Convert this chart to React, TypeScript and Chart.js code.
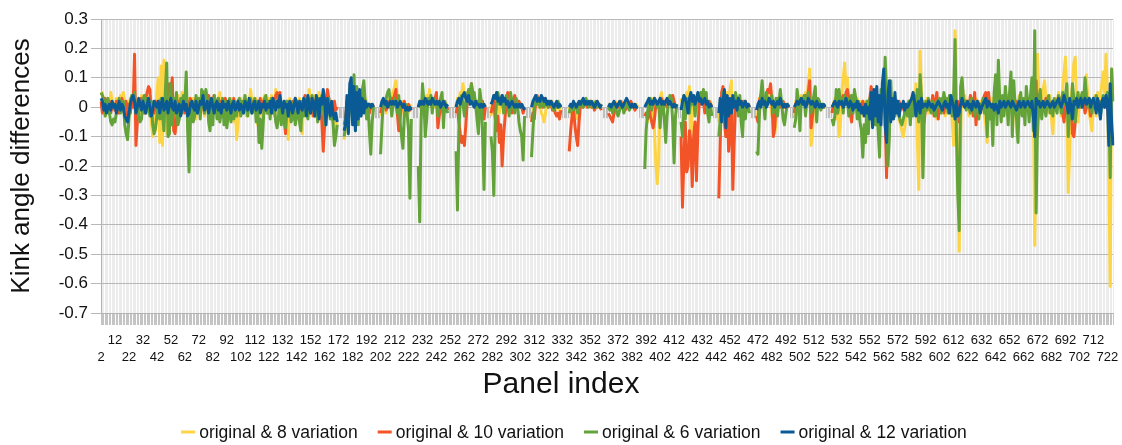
import React, { useEffect, useRef } from 'react';
import { Chart, registerables } from 'chart.js';

Chart.register(...registerables);

const _ = null;

// Panel index categories 2 .. 726
const panelIndex: string[] = Array.from({ length: 725 }, (_v, i) => String(i + 2));

const seriesLabels = [
  'original & 8 variation',
  'original & 10 variation',
  'original & 6 variation',
  'original & 12 variation',
];
const seriesColors = ['#fcd444', '#f25427', '#63a33a', '#0a5a96'];

const yMin = -0.7;
const yMax = 0.3;
const yStep = 0.1;

const xTitle = 'Panel index';
const yTitle = 'Kink angle differences';

// original & 8 variation (yellow)
const orig8: (number | null)[] = [
  .04,.05,.02,-.03,.01,.03,-.02,.05,.02,-.01,
  0,.03,-.02,.01,.04,-.01,.05,.02,-.03,-.02,
  .01,.03,0,.05,.02,-.03,.01,.02,-.02,.04,
  .02,-.01,.03,0,-.02,.04,-.05,-.1,.02,-.08,
  .05,.1,-.12,.14,-.13,.16,.08,-.09,.04,-.03,
  .02,.05,-.04,.03,-.02,.04,.01,-.03,.05,-.02,
  .02,0,-.03,.03,.01,-.02,.03,0,-.04,.02,
  .03,-.02,.04,.01,-.03,.02,.04,-.02,.01,.03,
  -.02,.04,0,-.03,.02,.05,-.02,.01,.03,-.04,
  .02,0,-.03,.03,.01,-.05,.02,-.11,-.06,.02,
  .03,-.02,.01,.04,-.03,.02,0,.06,.02,-.02,
  .01,.03,-.06,.02,0,-.03,.02,.04,-.02,.01,
  .03,-.02,.04,.01,-.03,.06,.02,-.04,.03,0,
  -.03,.02,-.08,.01,-.11,.03,0,-.04,.02,.03,
  -.02,.01,.03,-.03,-.09,.02,0,.03,-.02,.06,
  .01,-.03,.02,.04,-.02,.01,.05,-.03,.02,0,
  .03,-.02,.04,.01,-.03,.02,-.05,-.11,-.04,-.06,
  _,_,_,_,-.11,-.06,.02,-.05,.05,.03,
  -.04,.06,-.03,.04,-.02,.03,.01,.04,-.01,.03,
  .02,0,.01,0,.01,0,_,_,_,_,
  -.03,0,.02,.01,-.02,.03,.02,0,.04,.05,
  .07,.09,.03,.01,-.02,.02,0,-.03,.01,0,
  -.02,0,.01,_,_,_,_,0,.02,-.01,
  .02,.03,.01,.04,.02,.06,.03,.01,.02,0,
  .03,.01,.02,-.02,0,.01,.02,0,-.01,_,
  _,_,_,_,0,.03,.02,.05,.04,.08,
  .03,.05,.01,.02,.04,.02,.01,.03,0,.02,
  .01,-.02,0,.01,0,.01,_,_,_,-.03,
  .02,.04,.03,.01,.02,-.02,.03,.01,.02,0,
  .02,.03,.01,0,.02,.01,-.01,.02,0,.01,
  0,.01,-.01,0,_,_,_,_,-.04,-.02,
  .02,.03,.01,0,.02,-.02,-.03,-.05,-.02,.01,
  .02,0,.01,.02,0,-.01,.01,0,-.01,0,
  _,_,_,_,_,0,-.02,.01,0,-.01,
  -.02,-.04,.01,.02,0,.01,.02,0,.01,.02,
  .01,0,.02,.01,0,.01,0,0,.01,_,
  _,_,_,0,.01,-.01,0,.01,.02,0,
  .01,0,.02,.01,0,.01,.02,.01,0,.01,
  0,.01,0,.01,0,_,_,_,_,-.03,
  -.02,-.05,.01,.02,-.04,.03,-.08,-.2,-.26,-.18,
  .03,.05,.01,.02,0,.03,.01,.02,.04,.01,
  .02,0,.01,_,_,.03,.01,.04,.02,.05,
  .03,.07,-.15,.02,.04,.01,.03,0,.02,.04,
  .02,.03,.01,.02,0,.01,.02,0,_,_,
  _,_,-.05,.02,-.03,.04,.01,-.02,.05,.03,
  .06,.09,-.12,.02,.04,.01,.03,-.02,.02,0,
  .01,.02,0,.01,0,_,_,_,_,-.04,
  -.02,.03,.01,.04,.02,0,.03,.02,.05,.03,
  -.03,.02,-.09,-.05,.02,.01,.03,0,.02,.01,
  0,.01,0,_,_,_,-.03,.02,.01,.03,
  .02,.04,.01,.03,.05,.02,.08,.13,-.13,-.09,
  .02,.03,0,.02,.01,0,.01,0,.01,_,
  _,_,_,-.02,.01,.03,-.04,.02,-.1,-.06,
  .05,.1,.15,.06,.1,.02,.04,.01,.03,.02,
  0,.03,-.02,.01,.02,-.03,0,.02,-.01,0,
  .02,-.03,.04,.01,-.02,.03,0,.02,-.04,.03,
  .05,-.02,.03,.01,-.03,.02,0,-.02,.01,0,
  .02,-.04,-.06,-.08,-.1,-.07,-.03,.01,0,.02,
  .03,.05,-.02,.08,-.1,-.28,.19,.05,-.12,.02,
  .01,.03,-.02,0,.02,.01,-.03,.02,-.04,0,
  .02,-.02,.01,.03,-.03,0,.02,-.01,.03,-.05,
  -.13,.26,.05,-.2,-.49,-.1,.09,.02,.04,0,
  .02,-.03,.01,.02,-.02,0,.03,.01,-.04,.02,
  0,.02,-.03,-.06,-.12,.04,.02,0,.03,.01,
  -.02,.03,.04,.01,-.03,.02,0,.03,-.02,.04,
  .02,.05,-.04,.03,0,-.09,.02,.04,-.02,.01,
  .03,-.02,.04,.01,.02,-.03,.05,.03,-.47,-.1,
  .18,.04,-.03,.02,.06,.09,.03,-.02,.01,.04,
  -.04,-.09,.02,.03,0,.05,.02,-.03,.06,.12,
  .17,.05,-.29,-.15,.03,.08,.15,.17,.02,-.05,
  .03,.01,.05,.02,.06,.11,.03,-.02,-.05,-.08,
  .02,.04,-.03,.05,.01,.03,.08,.12,.05,.18,
  .05,-.2,-.61,.13,.06,
];

// original & 10 variation (orange-red)
const orig10: (number | null)[] = [
  .02,-.02,.01,.03,-.01,0,.02,-.02,.01,0,
  -.01,.02,0,-.02,.01,.03,-.01,0,.02,-.03,
  .01,-.02,.02,0,.18,-.13,-.05,.02,0,.03,
  .01,-.02,.03,.05,.07,.06,-.03,.01,-.02,.02,
  0,-.03,.02,.01,-.04,.03,0,.02,.06,.08,
  .05,.1,-.08,-.09,-.04,.02,0,-.02,.03,.01,
  -.02,.01,.02,-.01,.03,0,-.02,.02,.03,.01,
  -.01,.02,0,.03,-.02,.01,.02,.04,0,-.02,
  .02,.04,.01,-.01,.03,0,.02,-.02,.01,.03,
  0,-.02,.02,.01,-.01,.03,0,-.02,.01,.02,
  -.01,.02,0,.03,.01,-.02,.02,.01,-.01,.02,
  0,.02,-.02,.01,.03,-.01,.02,0,.01,-.02,
  .02,.01,-.01,.03,.02,.04,.05,.02,.05,-.02,
  .01,-.04,-.09,.02,0,-.03,.01,.02,-.01,.03,
  .02,-.02,.01,0,-.03,.02,.04,.01,-.02,.03,
  0,.02,-.03,.01,.03,-.02,0,.02,-.05,-.15,
  -.06,.02,.06,.03,-.02,.01,-.03,.02,-.01,0,
  _,_,_,_,-.06,-.03,.02,-.04,.03,.02,
  -.02,.03,-.03,.04,0,.02,-.01,.01,0,.02,
  0,.01,-.02,0,.01,0,_,_,_,_,
  -.02,0,.01,.02,-.01,.02,0,.01,.03,.02,
  .04,.06,-.02,-.08,-.04,.01,0,.02,-.01,0,
  .01,-.01,0,_,_,_,_,0,.01,.02,
  .01,.02,0,.01,.02,.03,.01,0,.02,.03,
  .05,-.07,-.03,.01,.02,-.02,0,.01,-.01,_,
  _,_,_,_,-.02,0,-.05,-.09,-.12,-.1,
  -.13,-.06,.02,.04,.03,.08,.05,.02,0,.02,
  .01,-.03,0,.02,-.04,0,_,_,_,-.02,
  0,.02,-.04,-.08,-.03,-.12,-.06,-.2,-.1,-.04,
  .02,.05,.01,.03,-.02,.02,.04,.01,0,.02,
  .01,0,-.02,0,_,_,_,_,-.05,-.02,
  -.04,.02,.04,.01,.03,.02,0,.03,.01,.02,
  0,.02,.01,-.01,0,-.02,-.03,-.02,-.04,-.01,
  _,_,_,_,_,-.15,-.08,-.03,0,-.06,
  -.1,-.13,-.05,.01,.02,0,.01,.02,0,.01,
  .02,0,.01,-.01,0,.02,.01,0,-.01,_,
  _,_,_,-.02,-.03,-.04,-.05,-.02,0,.01,
  0,.01,.02,0,.01,-.01,0,.01,0,.02,
  .01,0,-.01,0,0,_,_,_,_,-.03,
  -.02,-.04,.01,-.03,-.05,-.07,-.04,.01,.02,0,
  .01,.03,0,.02,.01,0,.02,.03,.01,.04,
  .02,0,.01,_,_,-.1,-.34,-.18,-.05,-.22,
  -.2,-.08,-.12,-.27,-.1,-.05,-.25,-.08,.02,.01,
  .03,.02,-.02,.01,0,.02,.01,0,_,_,
  _,_,-.31,-.12,.05,.07,-.05,-.1,.02,-.15,
  -.08,.03,-.28,-.12,.02,.01,.03,-.02,.01,.02,
  0,.02,-.01,.01,0,_,_,_,_,-.03,
  -.05,.02,.04,.01,.03,.02,.04,.06,.05,.08,
  .02,-.1,-.07,.01,.03,.02,0,.01,.02,0,
  .01,0,.01,_,_,_,-.02,.01,.02,0,
  .02,.01,.03,.02,.04,.01,.05,.09,-.07,-.03,
  .02,.01,0,.02,.01,0,.01,0,0,_,
  _,_,_,-.02,.01,.02,0,-.02,.01,.03,
  .02,.04,.02,.05,.06,.03,-.02,-.05,.01,.02,
  0,.02,-.02,.01,0,.02,-.01,.01,0,.02,
  .03,.07,.02,-.02,.01,.03,-.01,.02,0,.03,
  .05,-.03,-.24,-.05,.02,.01,-.02,.03,0,.01,
  0,.02,-.01,.01,0,-.02,.01,0,.02,.01,
  -.02,.01,0,.02,-.01,0,.03,.01,-.03,-.05,
  .01,0,.02,-.01,0,.04,-.03,.02,.05,-.04,
  .02,0,.03,-.02,.01,0,.02,-.01,.03,0,
  .01,.03,-.02,.02,-.05,0,.04,.01,0,.02,
  .01,0,.04,.02,-.03,.05,-.06,.02,0,-.02,
  .01,.02,.04,.05,.02,.05,-.02,.01,0,.02,
  .01,-.02,0,.02,.01,-.01,.02,0,.03,.01,
  0,.02,-.01,.01,0,.02,.01,-.01,.02,0,
  .01,.02,0,.03,.01,-.01,.02,.04,-.1,.09,
  -.1,.03,.01,.02,0,.01,.03,0,.02,.01,
  0,.02,.01,-.01,.02,0,.01,.03,-.02,-.05,
  .01,.02,-.03,0,.02,-.09,-.1,-.05,.02,.01,
  .03,0,.02,.01,-.02,0,.02,.01,-.03,.02,
  0,.01,.03,0,.02,-.01,.01,.02,0,.03,
  .01,-.05,0,-.12,-.1,
];

// original & 6 variation (green)
const orig6: (number | null)[] = [
  .05,.04,.02,-.03,.01,.03,-.02,-.05,-.06,-.04,
  -.05,-.02,.01,.03,-.02,0,.02,-.06,-.09,-.11,
  -.04,.02,.04,.03,.05,-.02,.01,-.03,-.05,-.04,
  .02,.04,-.02,.03,0,-.03,.02,-.06,-.09,-.07,
  -.03,.02,-.04,.03,-.02,-.08,.05,.15,-.1,-.09,
  .08,-.06,.03,-.02,.05,-.06,-.04,.03,-.02,.04,
  .02,.12,-.08,-.22,-.04,.02,-.05,-.03,.04,-.02,
  .03,-.04,.06,.05,-.02,.06,.03,-.05,-.08,.02,
  -.06,.04,.02,-.04,.03,-.05,-.02,.03,-.06,.02,
  -.07,-.03,.03,-.05,.02,-.04,.01,-.03,.02,.03,
  -.03,.02,-.02,.04,.01,-.03,.02,.03,-.02,.01,
  .03,-.05,.02,-.12,-.04,-.14,-.06,.03,.04,-.02,
  .02,-.04,.03,-.02,.01,-.05,-.07,-.03,.02,-.06,
  .01,-.04,-.07,.02,-.03,.01,-.05,-.04,.02,-.06,
  -.03,.01,-.05,-.08,.02,-.03,.01,.03,-.04,.02,
  -.02,.04,.01,-.03,.02,-.05,.03,-.02,.04,.01,
  -.06,.02,-.02,.03,-.04,-.02,-.05,-.13,-.1,-.06,
  _,_,_,_,-.1,-.06,.02,-.07,.06,.08,
  -.05,.11,-.08,.07,-.06,.04,-.03,.06,.09,.02,
  -.04,.01,-.08,-.16,-.05,0,_,_,_,_,
  -.16,-.06,.02,0,.03,.05,.06,.02,-.03,.01,
  .03,.01,-.02,.04,-.05,-.1,-.14,-.03,.01,-.02,
  -.08,-.31,-.04,_,_,_,_,-.2,-.39,-.05,
  .08,.02,-.1,-.04,.03,.01,.04,-.02,.03,.01,
  .02,-.03,0,.03,.05,-.07,.02,0,-.02,_,
  _,_,_,_,-.15,-.35,-.08,.02,.04,.01,
  -.03,.02,.04,.06,.03,.08,.02,.05,.01,-.04,
  -.09,.06,.02,-.1,-.28,-.05,_,_,_,-.1,
  -.15,-.3,-.06,.02,.05,.01,.03,.04,-.02,.02,
  .04,.01,-.03,.05,.02,0,-.02,.03,.01,-.05,
  -.08,-.1,-.18,-.03,_,_,_,_,-.17,-.08,
  0,.02,.01,.03,0,.02,.01,0,.02,.01,
  0,.01,.02,0,-.01,.01,0,.02,0,.01,
  _,_,_,_,_,-.02,0,.01,-.01,0,
  .01,-.02,0,.02,.01,0,.02,.03,.01,0,
  .02,.01,0,.01,.02,0,.01,0,.01,_,
  _,_,_,0,-.01,.01,-.02,0,.01,-.02,
  -.03,-.01,0,.01,-.02,0,.01,0,-.01,0,
  .01,0,.01,0,0,_,_,_,_,-.21,
  -.08,-.02,.02,.03,-.01,.02,.03,.01,0,.02,
  -.07,.01,.02,-.04,-.12,-.03,.02,.04,.03,-.05,
  -.19,-.03,.01,_,_,-.05,-.1,.02,-.04,.03,
  .02,-.02,.04,.01,.03,-.03,.02,.04,.02,.05,
  .03,.06,.02,.05,-.02,-.05,.01,-.03,_,_,
  _,_,-.1,-.04,.02,.05,.01,-.02,.03,0,
  .02,-.02,.03,.01,.05,.02,-.03,.04,-.05,-.1,
  .02,-.04,.01,0,-.02,_,_,_,_,-.15,
  -.16,-.03,.04,.09,.02,-.04,.05,.01,.03,.02,
  .04,-.02,.01,.03,-.03,.02,.06,.01,-.04,-.06,
  -.02,.01,0,_,_,_,-.07,-.04,.06,.02,
  -.08,.03,.01,.04,-.03,.02,.05,.02,-.02,.01,
  .04,.07,-.05,.03,.02,-.01,.01,0,.01,_,
  _,_,_,-.04,-.06,-.03,.06,-.02,.06,.02,
  .03,-.02,.04,.01,.03,-.03,.02,.04,-.02,.06,
  .03,-.04,.02,-.05,-.08,-.17,-.06,-.12,.02,-.09,
  .03,-.04,.02,.05,-.06,.03,-.08,-.17,.06,.02,
  .04,.17,.05,-.2,-.1,.09,-.04,.02,-.03,.01,
  .02,-.03,-.05,-.06,-.04,-.02,.01,-.03,.02,-.06,
  .02,-.03,.04,-.02,.06,-.05,.11,.03,-.24,-.04,
  .02,-.01,.03,0,-.02,.02,.01,-.03,.02,0,
  .03,-.02,.01,.05,.02,.03,-.02,.04,.01,-.03,
  .04,.23,-.1,-.3,-.42,.07,.1,.03,.02,-.01,
  .02,0,-.02,.03,.01,-.03,.02,0,-.04,.01,
  0,.03,-.02,.01,-.1,.02,-.04,0,-.13,.05,
  .11,-.06,.16,.02,-.05,.04,-.03,.07,.02,-.06,
  .05,.12,-.1,.09,0,-.04,-.12,.02,.05,-.03,
  .03,-.06,.07,.02,-.05,.04,.1,-.08,.26,-.36,
  -.05,.03,.06,-.04,.02,0,-.03,.02,.04,-.02,
  .01,-.03,.03,0,-.02,.04,.02,-.02,.05,.01,
  .04,.08,-.1,.02,-.04,.08,.03,-.05,.02,.05,
  0,.03,.05,.02,.1,.04,0,.03,.02,-.02,
  .03,.01,.04,0,.02,-.03,.01,.04,.02,.03,
  .05,.02,-.24,.13,.02,
];

// original & 12 variation (blue)
const orig12: (number | null)[] = [
  .03,.02,-.01,.01,-.02,0,.01,-.01,.02,0,
  .01,-.02,0,.02,-.01,.01,0,-.03,-.04,-.05,
  -.02,.01,.03,.04,.02,-.02,0,.03,.01,-.01,
  .02,0,-.02,.01,.03,0,-.03,-.01,.02,.01,
  0,.02,-.02,.01,.03,-.01,0,.02,-.02,.01,
  .03,0,-.01,.02,-.02,0,.01,-.03,0,.02,
  -.01,.01,-.03,-.02,.01,.02,0,-.01,.02,-.02,
  0,.02,.01,.04,-.01,0,.02,-.02,.01,.03,
  0,-.02,.01,.02,-.01,.01,-.02,.02,0,.01,
  -.01,.02,0,-.02,.01,.02,-.01,0,.02,-.01,
  .01,0,-.02,.02,.01,-.01,.03,0,-.02,.01,
  .02,-.01,0,.02,-.02,.01,0,.02,-.01,.01,
  0,.02,-.02,.03,.01,-.01,.02,0,.04,.01,
  -.02,.02,0,.01,-.03,.02,.01,-.02,0,.03,
  .01,-.02,.02,0,-.01,.03,.02,-.03,.04,0,
  -.02,.03,.01,-.03,.04,.02,-.04,.03,.01,.06,
  .02,-.06,.03,0,-.03,.02,-.02,-.04,-.02,-.05,
  _,_,_,_,-.08,-.05,.04,-.09,.08,.1,
  -.06,.07,-.08,.05,-.04,.06,-.03,.03,-.02,.02,
  0,.01,.01,0,.01,0,_,_,_,_,
  0,.02,.03,.01,.02,0,.01,.02,.01,.02,
  .01,.02,0,.01,.02,.01,0,.01,-.01,0,
  -.01,0,-.01,_,_,_,_,0,.02,.01,
  .02,.01,.03,.02,.01,.02,.01,.03,.02,.01,
  .02,.01,.02,0,.01,.02,.01,0,.01,_,
  _,_,_,_,0,.02,.03,.01,.03,.04,
  .05,.03,.02,.04,.01,.02,.01,0,.02,.01,
  .01,0,.01,0,.01,0,_,_,_,.01,
  .02,.04,.03,.05,.02,.03,.01,.04,.02,.03,
  .01,.02,0,.01,.02,.01,0,.01,0,.01,
  0,.01,0,-.01,_,_,_,_,0,.02,
  .03,.04,.02,.03,.02,.04,.03,.02,.03,.01,
  .02,.01,.02,.01,0,.01,.02,0,.01,0,
  _,_,_,_,_,0,.01,0,.02,.01,
  0,.01,.02,.01,.02,.03,.01,.02,.01,.02,
  .01,.02,.01,0,.01,.02,.01,0,.01,_,
  _,_,_,0,.01,0,.01,.02,.01,0,
  .01,.02,.01,0,.01,.02,.03,.02,.01,0,
  .01,0,.01,0,0,_,_,_,_,0,
  .01,.02,.03,.01,.02,.01,.03,.02,.01,.02,
  .03,.01,.02,.01,.02,.03,.01,.02,.01,0,
  .01,0,.01,_,_,-.01,.02,.04,.03,.01,
  -.02,.03,.05,.02,.04,.01,.03,.05,.02,.03,
  .01,.02,.03,.01,.02,0,.01,0,_,_,
  _,_,-.02,.03,-.05,.02,.06,-.07,.04,-.03,
  .03,-.02,.04,0,.02,-.01,.03,.01,.02,0,
  .01,.02,0,.01,0,_,_,_,_,-.01,
  .01,.02,0,.03,.01,.02,0,.01,.03,.02,
  .01,.02,0,.01,.02,.01,.03,.01,0,.01,
  0,.01,0,_,_,_,0,.01,.02,.01,
  .02,.03,.01,.02,0,.01,.03,.02,.01,.02,
  .01,0,.02,.01,0,.01,0,.01,0,_,
  _,_,_,0,.01,.02,.01,0,.02,.01,
  .02,0,.01,.03,.01,0,.02,.01,-.01,.01,
  0,.02,-.01,.01,-.02,0,-.03,.01,-.02,0,
  -.04,.05,-.07,.06,-.03,.07,-.05,.04,-.06,.08,
  .13,-.06,-.12,.04,.09,-.05,.03,-.04,.05,-.02,
  .02,-.03,.01,0,.02,-.01,.01,0,.01,.02,
  .03,.05,.02,-.03,.01,.02,-.02,.03,0,.01,
  .01,0,.02,.01,0,.01,-.01,0,.01,.02,
  .01,0,-.01,.01,.02,0,.01,-.02,.04,.02,
  0,-.04,.02,-.03,-.02,.01,.03,.01,0,.01,
  .02,0,.01,-.01,.02,.01,0,.02,.01,-.02,
  0,.01,.02,.03,0,.02,.01,0,.01,-.01,
  .01,0,-.02,.02,0,.01,.02,0,.01,.02,
  .01,0,.02,.01,0,-.01,.01,.02,0,.01,
  .02,0,.01,.02,.01,0,.02,-.03,-.1,.03,
  .01,.02,0,.01,.02,0,.01,.02,.01,0,
  .01,.02,0,.01,.02,.03,.01,0,.02,.04,
  .02,.01,-.02,.03,0,-.04,.02,.01,.03,0,
  .02,.03,0,.02,.03,.01,.02,.03,0,.02,
  .03,.01,-.02,.03,0,-.04,.02,.03,0,.04,
  .02,-.13,.08,-.05,-.13,
];

const seriesData = [orig8, orig10, orig6, orig12];

const FONT = '"Liberation Sans", Arial, Helvetica, sans-serif';
const NARROW = '"Liberation Sans Narrow", "Arial Narrow", "Liberation Sans", Arial, sans-serif';
const TEXT = '#111111';

// grey interval marks at the zero line, visible where no series is drawn
const zeroTicksPlugin = {
  id: 'zeroTicks',
  beforeDatasetsDraw(chart: any) {
    const xs = chart.scales.x;
    const ys = chart.scales.y;
    const ctx = chart.ctx;
    const y0 = ys.getPixelForValue(0);
    const ref = chart.data.datasets[3].data as (number | null)[];
    ctx.save();
    ctx.strokeStyle = '#bfbfbf';
    ctx.lineWidth = 1;
    ctx.beginPath();
    for (let i = 0; i < xs.ticks.length; i++) {
      if (ref[i] !== null && ref[i] !== undefined) continue;
      const px = Math.round(xs.getPixelForTick(i)) + 0.5;
      ctx.moveTo(px, y0);
      ctx.lineTo(px, y0 + 11);
    }
    ctx.stroke();
    ctx.restore();
  },
};

const textPlugin = {
  id: 'bottomTexts',
  afterDraw(chart: any) {
    const ctx = chart.ctx;
    ctx.save();
    // x axis title, centred on the page
    ctx.font = `30px ${FONT}`;
    ctx.fillStyle = TEXT;
    ctx.textAlign = 'center';
    ctx.textBaseline = 'middle';
    ctx.fillText(xTitle, 561, 385);

    // legend
    ctx.font = `17.5px ${FONT}`;
    const items = chart.data.datasets.map((ds: any) => ({
      text: ds.label as string,
      color: ds.borderColor as string,
      w: ctx.measureText(ds.label).width,
    }));
    const mark = 14;
    const gap = 4;
    const itemGap = 20;
    const total =
      items.reduce((s: number, it: any) => s + mark + gap + it.w, 0) + itemGap * (items.length - 1);
    let x = 574 - total / 2;
    const y = 432;
    items.forEach((it: any) => {
      ctx.strokeStyle = it.color;
      ctx.lineWidth = 3;
      ctx.beginPath();
      ctx.moveTo(x, y);
      ctx.lineTo(x + mark, y);
      ctx.stroke();
      ctx.fillStyle = TEXT;
      ctx.textBaseline = 'middle';
      ctx.textAlign = 'left';
      ctx.fillText(it.text, x + mark + gap, y + 1);
      x += mark + gap + it.w + itemGap;
    });
    ctx.restore();
  },
};

export default function App() {
  const canvasRef = useRef<HTMLCanvasElement | null>(null);

  useEffect(() => {
    if (!canvasRef.current) return;
    const chart = new Chart(canvasRef.current, {
      type: 'line',
      data: {
        labels: panelIndex,
        datasets: seriesData.map((d, k) => ({
          label: seriesLabels[k],
          data: d,
          borderColor: seriesColors[k],
          backgroundColor: seriesColors[k],
          borderWidth: 3,
          pointRadius: 0,
          tension: 0,
          spanGaps: false,
          fill: false,
          order: 4 - k,
        })),
      },
      options: {
        animation: false,
        responsive: false,
        events: [],
        layout: { padding: { top: 19, right: 9, bottom: 0, left: 0 } },
        elements: { line: { borderJoinStyle: 'round' as const } },
        plugins: {
          legend: { display: false },
          tooltip: { enabled: false },
        },
        scales: {
          x: {
            type: 'category',
            offset: false,
            grid: {
              color: '#ececec',
              lineWidth: 1,
              tickLength: 12,
              tickColor: '#c4c4c4',
              drawTicks: true,
            },
            border: { color: '#b3b3b3', width: 1 },
            ticks: {
              autoSkip: false,
              maxRotation: 0,
              minRotation: 0,
              padding: 7,
              color: TEXT,
              font: { family: NARROW, size: 13, lineHeight: '17px' },
              callback: function (_value: any, index: number) {
                const lbl = panelIndex[index];
                const n = Number(lbl);
                if ((n - 2) % 20 === 10) return lbl;
                if ((n - 2) % 20 === 0) return ['', lbl];
                return '';
              },
            },
            title: { display: false },
            afterFit: (s: any) => {
              s.height = 132;
            },
          },
          y: {
            min: yMin,
            max: yMax,
            ticks: {
              stepSize: yStep,
              padding: 3,
              color: TEXT,
              font: { family: FONT, size: 17 },
              callback: (v: any) => {
                const r = Math.round(Number(v) * 10) / 10;
                return r === 0 ? '0' : String(r);
              },
            },
            grid: { color: '#b8b8b8', tickLength: 10, tickColor: '#b8b8b8' },
            border: { color: '#b3b3b3', width: 1 },
            title: {
              display: true,
              text: yTitle,
              color: TEXT,
              font: { family: FONT, size: 26 },
              padding: { top: 6, bottom: 0 },
            },
            afterFit: (s: any) => {
              s.width = 101;
            },
          },
        },
      } as any,
      plugins: [zeroTicksPlugin, textPlugin],
    });
    return () => chart.destroy();
  }, []);

  return (
    <div
      style={{
        position: 'absolute',
        left: 0,
        top: 0,
        width: 1122,
        height: 445,
        background: '#ffffff',
      }}
    >
      <canvas ref={canvasRef} width={1122} height={445} />
    </div>
  );
}
